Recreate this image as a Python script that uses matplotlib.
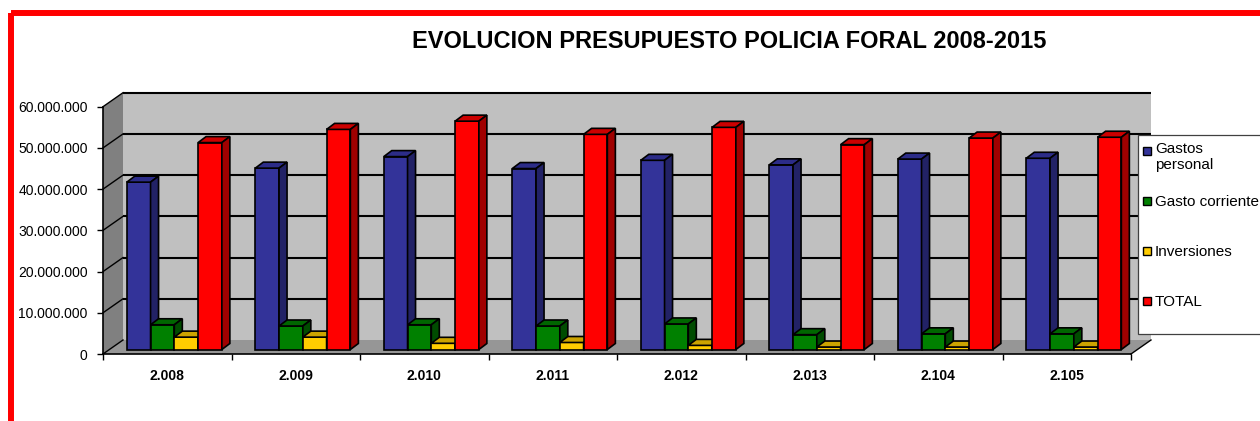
import matplotlib
matplotlib.use('Agg')
import matplotlib.pyplot as plt
from matplotlib.patches import Polygon, Rectangle
import numpy as np

plt.rcParams['font.family'] = ['Liberation Sans', 'DejaVu Sans']

# data
years = ['2.008', '2.009', '2.010', '2.011', '2.012', '2.013', '2.104', '2.105']
gastos_personal = [40.6e6, 44.0e6, 46.8e6, 43.9e6, 45.9e6, 44.8e6, 46.2e6, 46.4e6]
gasto_corriente = [6.0e6, 5.7e6, 6.0e6, 5.7e6, 6.2e6, 3.6e6, 3.8e6, 3.8e6]
inversiones = [3.0e6, 3.0e6, 1.5e6, 1.7e6, 1.0e6, 0.6e6, 0.6e6, 0.6e6]
total = [50.2e6, 53.4e6, 55.4e6, 52.2e6, 53.9e6, 49.7e6, 51.3e6, 51.5e6]
series_names = ['Gastos\npersonal', 'Gasto corriente', 'Inversiones', 'TOTAL']
y_ticks = [0, 10000000, 20000000, 30000000, 40000000, 50000000, 60000000]

series = [gastos_personal, gasto_corriente, inversiones, total]
# front, top, side colours
colors = [('#333399', '#2c2c88', '#222266'),
          ('#008000', '#006600', '#004c00'),
          ('#ffcc00', '#cca300', '#997a00'),
          ('#ff0000', '#cc0000', '#a00000')]

W, H = 1260, 421
fig = plt.figure(figsize=(W / 100, H / 100), dpi=100)
ax = fig.add_axes([103 / W, (H - 354) / H, 1028 / W, 247.3 / H])
ax.set_xlim(0, 8)
ax.set_ylim(0, 60e6)
ax.patch.set_visible(False)

ncat = len(years)
ymax = y_ticks[-1]
px_x = 1028 / 8
px_y = 247.3 / 60e6
# depth of the box and of the bars (pixels -> data units)
dxw, dyw = 20 / px_x, 14 / px_y
dxb, dyb = 8 / px_x, 6 / px_y
base = 4.5 / px_y

# walls and floor
ax.add_patch(Polygon([(0, 0), (0, ymax), (dxw, ymax + dyw), (dxw, dyw)],
                     closed=True, fc='#808080', ec='none', zorder=0.5, clip_on=False))
ax.add_patch(Polygon([(dxw, dyw), (ncat + dxw, dyw), (ncat + dxw, ymax + dyw), (dxw, ymax + dyw)],
                     closed=True, fc='#c0c0c0', ec='none', zorder=0.5, clip_on=False))
ax.add_patch(Polygon([(0, 0), (ncat, 0), (ncat + dxw, dyw), (dxw, dyw)],
                     closed=True, fc='#969696', ec='none', zorder=0.6, clip_on=False))
for v in y_ticks[1:]:
    ax.plot([dxw, ncat + dxw], [v + dyw, v + dyw], color='black', lw=1.5,
            zorder=1, clip_on=False, solid_capstyle='butt')
    ax.plot([0, dxw], [v, v + dyw], color='black', lw=1.0, zorder=1, clip_on=False)
ax.plot([0, dxw], [0, dyw], color='black', lw=1.0, zorder=1, clip_on=False)
ax.plot([ncat, ncat + dxw], [0, dyw], color='black', lw=1.0, zorder=1, clip_on=False)

# 3D-looking columns
bw = 0.185
x = np.arange(ncat)
for k, vals in enumerate(series):
    front, topc, sidec = colors[k]
    z = 2 + k
    left = x + 0.185 + k * bw
    ax.bar(left, vals, bw, bottom=base, align='edge', color=front,
           edgecolor='black', linewidth=1.2, zorder=z)
    for x0, h in zip(left, vals):
        t = base + h
        ax.add_patch(Polygon([(x0, t), (x0 + bw, t), (x0 + bw + dxb, t + dyb), (x0 + dxb, t + dyb)],
                             closed=True, fc=topc, ec='black', lw=1.2, zorder=z))
        ax.add_patch(Polygon([(x0 + bw, base), (x0 + bw + dxb, base + dyb),
                              (x0 + bw + dxb, t + dyb), (x0 + bw, t)],
                             closed=True, fc=sidec, ec='black', lw=1.2, zorder=z))

# axes
for s in ['top', 'right']:
    ax.spines[s].set_visible(False)
ax.spines['left'].set_linewidth(1.2)
ax.spines['bottom'].set_linewidth(1.2)
ax.spines['left'].set_zorder(10)
ax.spines['bottom'].set_zorder(10)
ax.set_yticks(y_ticks)
ax.set_yticklabels([f'{v:,}'.replace(',', '.') for v in y_ticks])
ax.set_xticks(np.arange(ncat + 1))
ax.set_xticklabels([])
ax.set_xticks(x + 0.5, minor=True)
ax.set_xticklabels(years, minor=True, fontsize=10, fontweight='bold')
ax.tick_params(axis='y', length=4, width=1, pad=7, labelsize=10)
ax.tick_params(axis='x', which='major', length=4, width=1)
ax.tick_params(axis='x', which='minor', length=0, pad=11)

# overlay in pixel coordinates: border, title, legend
ov = fig.add_axes([0, 0, 1, 1])
ov.set_xlim(0, W)
ov.set_ylim(H, 0)
ov.axis('off')
ov.patch.set_visible(False)
ov.add_patch(Rectangle((11, 13), 1300, 450, fill=False, ec='#ff0000', lw=4.3,
                       joinstyle='miter'))
ov.text(729, 41, 'EVOLUCION PRESUPUESTO POLICIA FORAL 2008-2015',
        fontsize=17, fontweight='bold', ha='center', va='center')

ov.add_patch(Rectangle((1138, 135), 200, 199, fc='white', ec='#404040', lw=0.9))
baselines = [156, 206, 256, 306]
for k, name in enumerate(series_names):
    yb = baselines[k]
    ov.add_patch(Rectangle((1143, yb - 9), 8, 8, fc=colors[k][0], ec='black', lw=1.0))
    if '\n' in name:
        ov.text(1155, yb - 14, name, fontsize=11, ha='left', va='top', linespacing=1.15)
    else:
        ov.text(1155, yb, name, fontsize=11, ha='left', va='baseline')

fig.savefig('out.png', dpi=100)
